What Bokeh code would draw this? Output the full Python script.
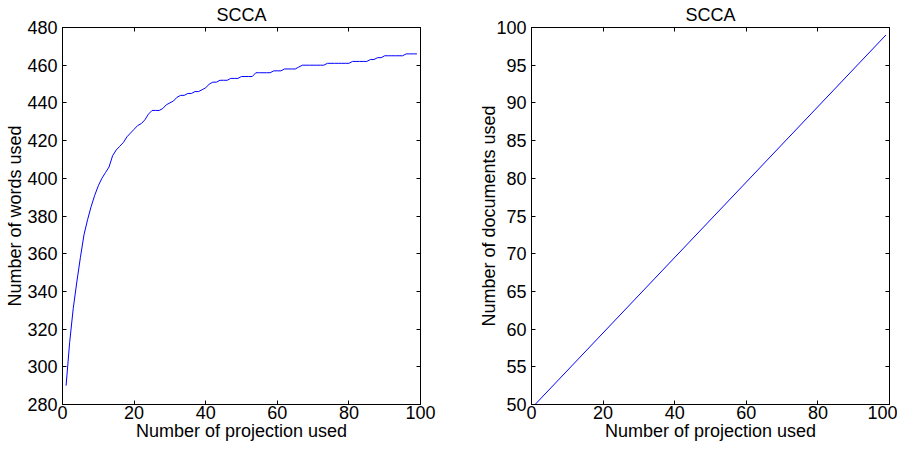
from bokeh.plotting import figure
from bokeh.layouts import row
from bokeh.models import LinearAxis, FixedTicker, Range1d, CustomJSTickFormatter
from bokeh.embed import file_html
from bokeh.resources import INLINE

# ---- data ----
proj = list(range(1, 100))
words_used = [290, 313, 331, 345, 358, 370, 378, 385, 391, 396,
              400, 403, 406, 412, 415, 417, 419, 422, 424, 426,
              428, 429, 431, 434, 436, 436, 436, 437, 439, 440,
              441, 443, 444, 444, 445, 445, 446, 446, 447, 448,
              450, 451, 451, 452, 452, 452, 453, 453, 453, 454,
              454, 454, 454, 456, 456, 456, 456, 456, 457, 457,
              457, 458, 458, 458, 458, 459, 460, 460, 460, 460,
              460, 460, 460, 461, 461, 461, 461, 461, 461, 461,
              462, 462, 462, 462, 462, 463, 463, 464, 464, 465,
              465, 465, 465, 465, 465, 466, 466, 466, 466]
doc_proj = [1, 99]
docs_used = [50, 99]

x_ticks = [0, 20, 40, 60, 80, 100]
words_ticks = [280, 300, 320, 340, 360, 380, 400, 420, 440, 460, 480]
docs_ticks = [50, 55, 60, 65, 70, 75, 80, 85, 90, 95, 100]

FONT = "Liberation Sans"
FS = "18px"


def style_axis(ax, ticks, show_labels):
    ax.ticker = FixedTicker(ticks=ticks)
    ax.major_tick_in = 4
    ax.major_tick_out = 0
    ax.minor_tick_line_color = None
    ax.axis_line_color = "black"
    ax.major_tick_line_color = "black"
    ax.major_label_text_font = FONT
    ax.major_label_text_color = "black"
    ax.major_label_text_font_size = FS
    ax.axis_label_text_font = FONT
    ax.axis_label_text_font_style = "normal"
    ax.axis_label_text_font_size = FS
    ax.axis_label_text_color = "black"
    if not show_labels:
        ax.formatter = CustomJSTickFormatter(code="return ''")
        ax.major_label_standoff = 0
        ax.axis_label_standoff = 0


def make_fig(xs, ys, yticks, yrange, ylabel, left, right, ylab_standoff):
    p = figure(frame_width=358, height=443, output_backend="svg", toolbar_location=None,
               x_range=Range1d(0, 100), y_range=Range1d(*yrange),
               min_border_left=left, min_border_right=right,
               min_border_top=0, min_border_bottom=0, title="SCCA")
    p.title.text_font = FONT
    p.title.text_font_size = FS
    p.title.text_font_style = "normal"
    p.title.text_color = "black"
    p.title.align = "center"
    p.title.offset = 0
    p.title.standoff = 5
    p.grid.visible = False
    p.outline_line_color = "black"
    p.outline_line_alpha = 1
    p.background_fill_color = "white"
    p.border_fill_color = "white"

    xa = p.xaxis[0]
    ya = p.yaxis[0]
    style_axis(xa, x_ticks, True)
    style_axis(ya, yticks, True)
    xa.axis_label = "Number of projection used"
    ya.axis_label = ylabel
    xa.major_label_standoff = 1
    ya.major_label_standoff = 5
    xa.axis_label_standoff = -1
    ya.axis_label_standoff = ylab_standoff

    top = LinearAxis()
    style_axis(top, x_ticks, False)
    p.add_layout(top, "above")
    rt = LinearAxis()
    style_axis(rt, yticks, False)
    p.add_layout(rt, "right")

    p.line(xs, ys, line_color="#0000ff", line_width=1)
    return p


p1 = make_fig(proj, words_used, words_ticks, (280, 480), "Number of words used", 62, 24, -1)
p2 = make_fig(doc_proj, docs_used, docs_ticks, (50, 100), "Number of documents used", 87, 8, -6)

layout = row(p1, p2)
open("out.html", "w").write(file_html(layout, INLINE))
